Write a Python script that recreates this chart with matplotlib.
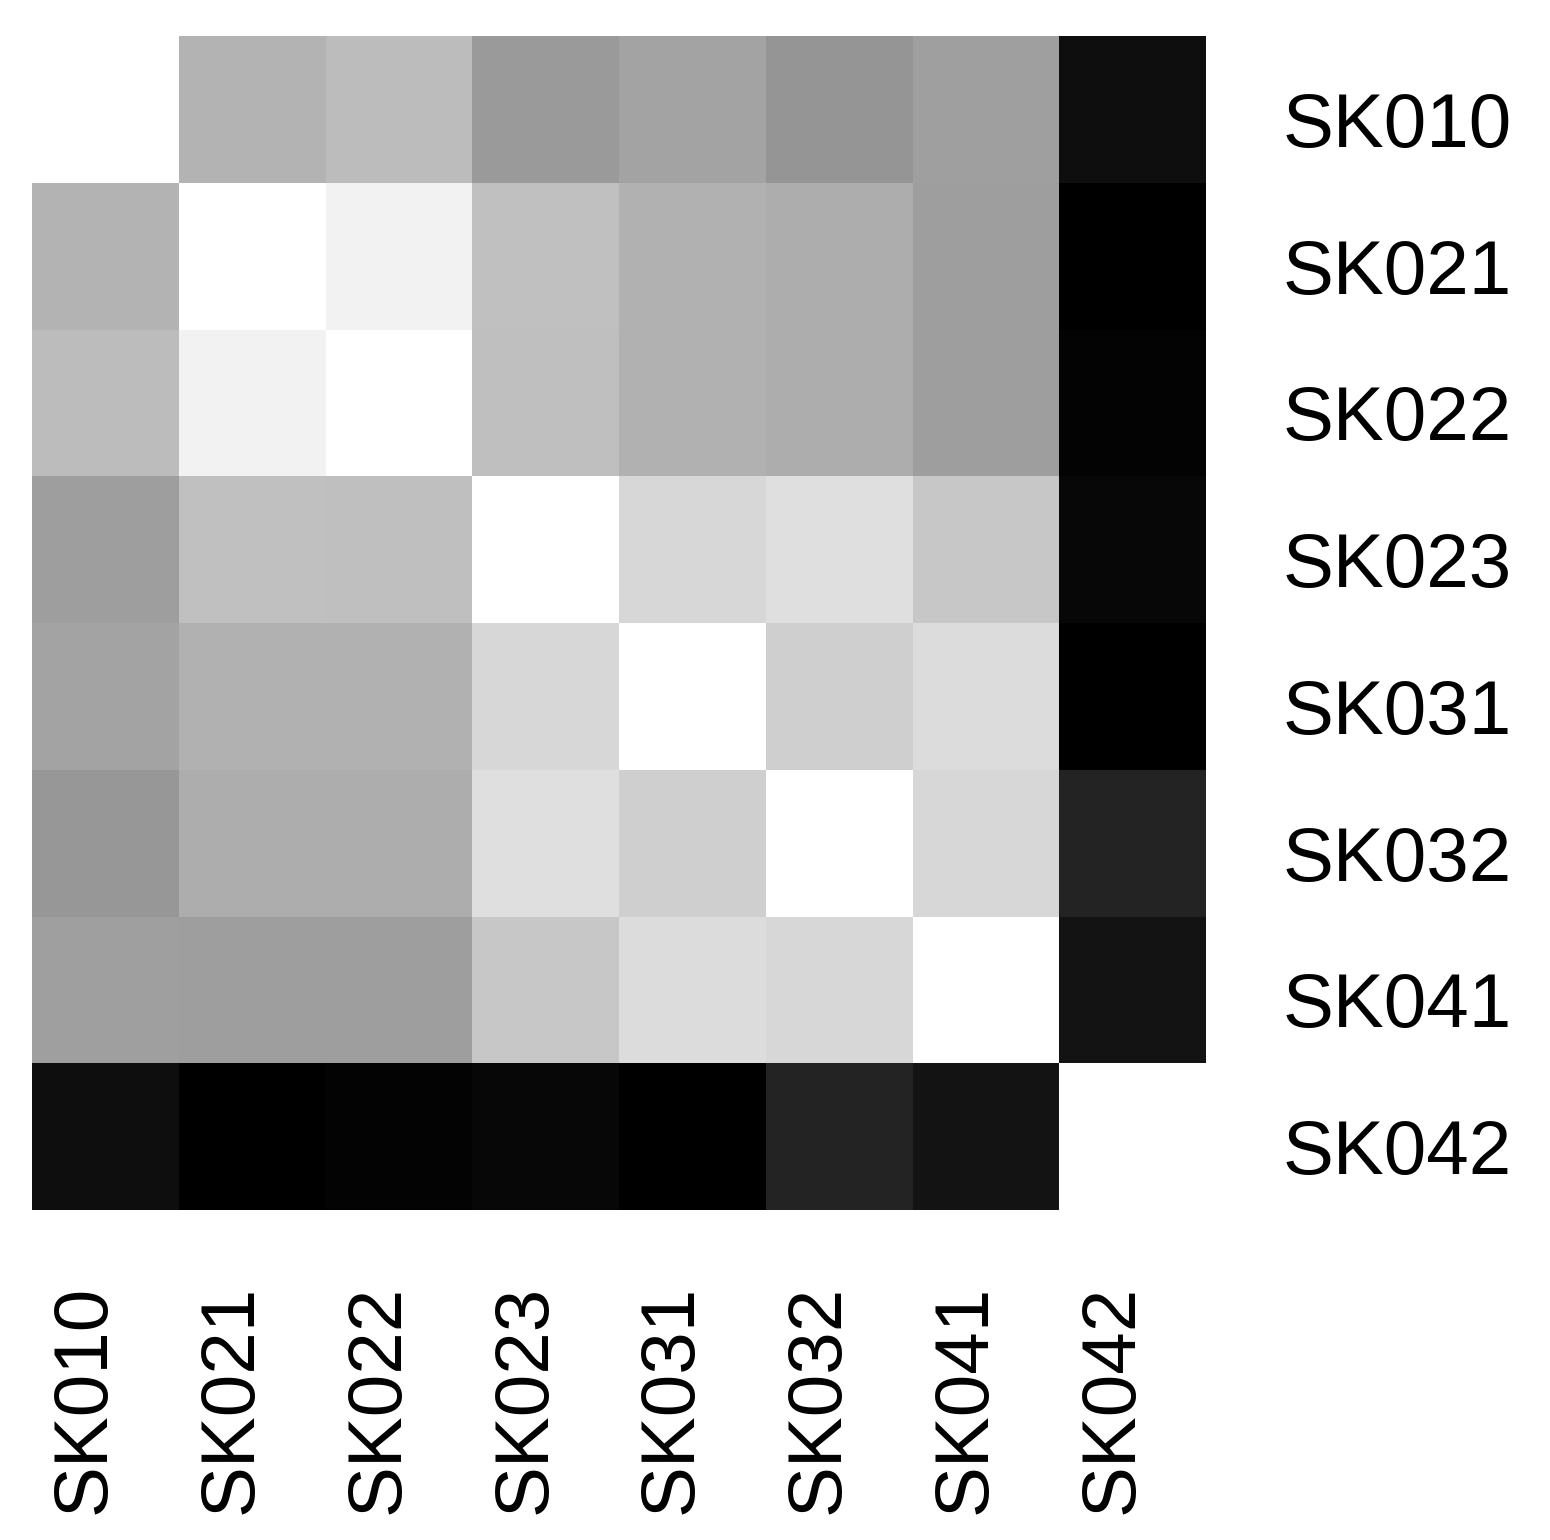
import numpy as np
import matplotlib.pyplot as plt
import matplotlib.transforms as mtransforms

labels = ["SK010", "SK021", "SK022", "SK023", "SK031", "SK032", "SK041", "SK042"]

# grey level of each cell (0 = black, 255 = white), diagonal left empty
grey = np.array([
    [np.nan, 0xB3, 0xBC, 0x9A, 0xA3, 0x95, 0x9F, 0x0E],
    [0xB3, np.nan, 0xF2, 0xC0, 0xB1, 0xAD, 0x9E, 0x00],
    [0xBC, 0xF2, np.nan, 0xBF, 0xB1, 0xAD, 0x9E, 0x03],
    [0x9E, 0xC0, 0xBF, np.nan, 0xD7, 0xDF, 0xC7, 0x07],
    [0xA3, 0xB1, 0xB1, 0xD7, np.nan, 0xCF, 0xDC, 0x00],
    [0x97, 0xAD, 0xAD, 0xDF, 0xCF, np.nan, 0xD7, 0x23],
    [0x9F, 0x9E, 0x9E, 0xC7, 0xDC, 0xD7, np.nan, 0x13],
    [0x0E, 0x00, 0x03, 0x07, 0x00, 0x23, 0x13, np.nan],
])

plt.rcParams['font.family'] = ['Liberation Sans', 'DejaVu Sans']

fig = plt.figure(figsize=(15.5, 15.4), dpi=100)
ax = fig.add_axes([32 / 1550, 1 - 1210 / 1540, 1174 / 1550, 1174 / 1540])

n = len(labels)
ax.pcolormesh(np.arange(n + 1), np.arange(n + 1), grey, cmap="gray", vmin=0, vmax=255)
ax.set_xlim(0, n)
ax.set_ylim(n, 0)

ax.set_xticks(np.arange(n) + 0.5)
ax.set_xticklabels(labels, rotation=90, fontsize=55)
ax.set_yticks(np.arange(n) + 0.5)
ax.set_yticklabels(labels, fontsize=55)
ax.yaxis.tick_right()
ax.tick_params(axis="y", length=0, pad=55)
ax.tick_params(axis="x", length=0, pad=54)
for s in ax.spines.values():
    s.set_visible(False)

# labels sit a little off the cell centres in the original
shift_x = mtransforms.ScaledTranslation(-0.2, 0, fig.dpi_scale_trans)
for t in ax.get_xticklabels():
    t.set_transform(t.get_transform() + shift_x)
shift_y = mtransforms.ScaledTranslation(0, -0.1, fig.dpi_scale_trans)
for t in ax.get_yticklabels():
    t.set_transform(t.get_transform() + shift_y)

fig.savefig("out.png", dpi=100)
